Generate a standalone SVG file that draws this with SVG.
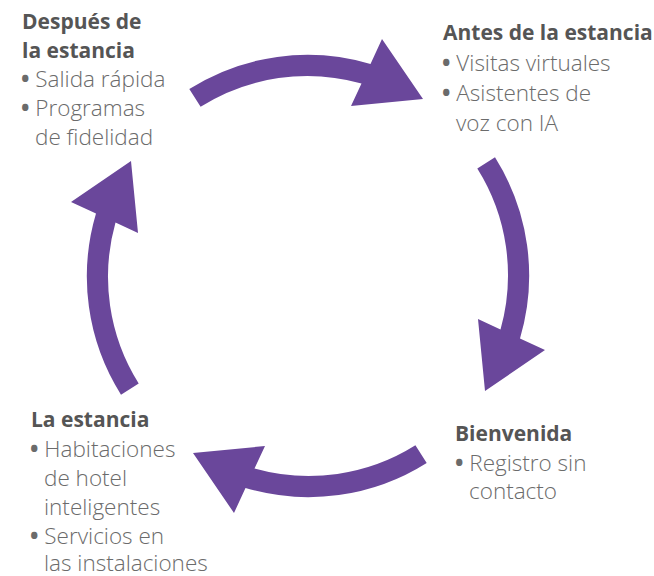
<svg xmlns="http://www.w3.org/2000/svg" width="654" height="576" viewBox="0 0 654 576">
<style>
.arrow{fill:#6a479b}
.t{font-family:"Open Sans","Liberation Sans",sans-serif;font-size:21px;font-weight:700;fill:#555555}
.b{font-family:"Open Sans","Liberation Sans",sans-serif;font-size:22.5px;font-weight:300;fill:#6b6b6b}
.d{font-weight:700}
</style>
<defs>
<path id="arr" d="M 189.3 89 A 221.5 221.5 0 0 1 370.5 64 L 382 39 L 423 99 L 351 106 L 361.5 83.5 A 200.5 200.5 0 0 0 200.6 106.7 Z"/>
</defs>
<rect width="654" height="576" fill="#ffffff"/>
<g id="connectors">
<use href="#arr" class="arrow"/>
<use href="#arr" class="arrow" transform="rotate(90 308 276)"/>
<use href="#arr" class="arrow" transform="rotate(180 308 276)"/>
<use href="#arr" class="arrow" transform="rotate(270 308 276)"/>
</g>
<g id="despues">
<text class="t" x="22" y="29">Después de</text>
<text class="t" x="22" y="58">la estancia</text>
<text class="b" x="21" y="87"><tspan class="d">•</tspan> Salida rápida</text>
<text class="b" x="21" y="116"><tspan class="d">•</tspan> Programas</text>
<text class="b" x="35" y="145">de fidelidad</text>
</g>
<g id="antes">
<text class="t" x="443" y="40">Antes de la estancia</text>
<text class="b" x="442" y="71"><tspan class="d">•</tspan> Visitas virtuales</text>
<text class="b" x="442" y="101"><tspan class="d">•</tspan> Asistentes de</text>
<text class="b" x="456" y="131">voz con IA</text>
</g>
<g id="bienvenida">
<text class="t" x="455" y="441">Bienvenida</text>
<text class="b" x="455" y="471"><tspan class="d">•</tspan> Registro sin</text>
<text class="b" x="469" y="499">contacto</text>
</g>
<g id="estancia">
<text class="t" x="31" y="427">La estancia</text>
<text class="b" x="30" y="457"><tspan class="d">•</tspan> Habitaciones</text>
<text class="b" x="44" y="486">de hotel</text>
<text class="b" x="44" y="515">inteligentes</text>
<text class="b" x="30" y="544"><tspan class="d">•</tspan> Servicios en</text>
<text class="b" x="44" y="571">las instalaciones</text>
</g>
</svg>
